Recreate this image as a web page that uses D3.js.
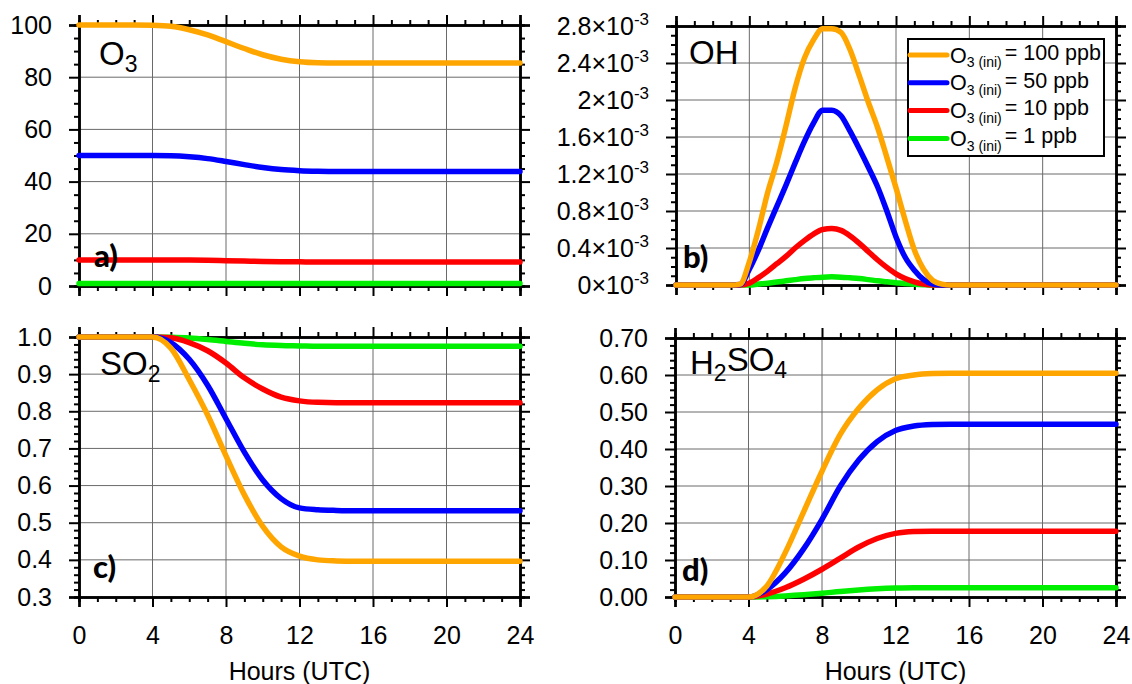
<!DOCTYPE html>
<html><head><meta charset="utf-8">
<script src="https://cdn.jsdelivr.net/npm/d3@7"></script>
<style>
body{margin:0;background:#fff}
svg{display:block}
text{font-family:"Liberation Sans",Arial,Helvetica,sans-serif;fill:#000}
</style>
</head><body>
<svg id="chart" width="1132" height="684"></svg>
<script>
// ---------------- DATA ----------------
const hours = [0,1,2,3,4,5,6,7,8,9,10,11,12,13,14,15,16,17,18,19,20,21,22,23,24];
const hoursHalf = [0,0.5,1,1.5,2,2.5,3,3.5,4,4.5,5,5.5,6,6.5,7,7.5,8,8.5,9,9.5,10,10.5,11,11.5,12,12.5,13,13.5,14,14.5,15,15.5,16,16.5,17,17.5,18,18.5,19,19.5,20,20.5,21,21.5,22,22.5,23,23.5,24];

const seriesInit = ["100", "50", "10", "1"];
const seriesColors = ["#FFA500", "#0000FF", "#FF0000", "#00EE00"];

// a) O3 (ppb)
const o3_100 = [100,100,100,100,99.9,99.5,98.2,96.2,93.6,91.0,88.6,86.9,85.9,85.5,85.4,85.4,85.4,85.4,85.4,85.4,85.4,85.4,85.4,85.4,85.4];
const o3_50  = [50,50,50,50,50,49.9,49.5,48.8,47.7,46.5,45.4,44.6,44.2,44.0,43.9,43.9,43.9,43.9,43.9,43.9,43.9,43.9,43.9,43.9,43.9];
const o3_10  = [10,10,10,10,10,10,9.95,9.85,9.7,9.55,9.4,9.3,9.25,9.2,9.2,9.2,9.2,9.2,9.2,9.2,9.2,9.2,9.2,9.2,9.2];
const o3_1   = [1,1,1,1,1,1,1,0.99,0.99,0.99,0.98,0.98,0.98,0.98,0.98,0.98,0.98,0.98,0.98,0.98,0.98,0.98,0.98,0.98,0.98];

// b) OH (x10^-3), half-hourly
const oh_100 = [0,0,0,0,0,0,0,0.01,0.25,0.6,1.0,1.33,1.72,2.13,2.45,2.65,2.77,2.77,2.73,2.54,2.26,1.97,1.7,1.38,1.05,0.7,0.38,0.17,0.05,0.01,0,0,0,0,0,0,0,0,0,0,0,0,0,0,0,0,0,0,0];
const oh_50  = [0,0,0,0,0,0,0,0.005,0.17,0.38,0.62,0.85,1.08,1.32,1.55,1.75,1.89,1.89,1.83,1.66,1.47,1.27,1.06,0.8,0.52,0.3,0.16,0.06,0.01,0,0,0,0,0,0,0,0,0,0,0,0,0,0,0,0,0,0,0,0];
const oh_10  = [0,0,0,0,0,0,0,0,0.02,0.08,0.15,0.23,0.31,0.4,0.48,0.55,0.6,0.61,0.59,0.53,0.45,0.36,0.27,0.19,0.12,0.07,0.035,0.01,0,0,0,0,0,0,0,0,0,0,0,0,0,0,0,0,0,0,0,0,0];
const oh_1   = [0,0,0,0,0,0,0,0,0,0.01,0.02,0.032,0.045,0.058,0.07,0.078,0.085,0.088,0.085,0.078,0.07,0.058,0.045,0.035,0.025,0.015,0.008,0.003,0,0,0,0,0,0,0,0,0,0,0,0,0,0,0,0,0,0,0,0,0];

// c) SO2 (normalised)
const so2_100 = [1,1,1,1,1,0.97,0.885,0.79,0.68,0.575,0.49,0.435,0.41,0.4,0.397,0.396,0.396,0.396,0.396,0.396,0.396,0.396,0.396,0.396,0.396];
const so2_50  = [1,1,1,1,1,0.985,0.94,0.87,0.78,0.69,0.615,0.565,0.54,0.535,0.533,0.532,0.532,0.532,0.532,0.532,0.532,0.532,0.532,0.532,0.532];
const so2_10  = [1,1,1,1,1,0.998,0.985,0.963,0.93,0.89,0.86,0.838,0.828,0.824,0.823,0.823,0.823,0.823,0.823,0.823,0.823,0.823,0.823,0.823,0.823];
const so2_1   = [1,1,1,1,1,0.999,0.997,0.993,0.988,0.983,0.979,0.977,0.976,0.975,0.975,0.975,0.975,0.975,0.975,0.975,0.975,0.975,0.975,0.975,0.975];

// d) H2SO4
const h2so4_100 = [0,0,0,0,0,0.03,0.12,0.23,0.34,0.44,0.51,0.56,0.59,0.6,0.604,0.605,0.605,0.605,0.605,0.605,0.605,0.605,0.605,0.605,0.605];
const h2so4_50  = [0,0,0,0,0,0.02,0.065,0.13,0.21,0.3,0.37,0.42,0.45,0.462,0.466,0.467,0.467,0.467,0.467,0.467,0.467,0.467,0.467,0.467,0.467];
const h2so4_10  = [0,0,0,0,0,0.008,0.025,0.048,0.075,0.105,0.135,0.158,0.172,0.177,0.178,0.178,0.178,0.178,0.178,0.178,0.178,0.178,0.178,0.178,0.178];
const h2so4_1   = [0,0,0,0,0,0.001,0.003,0.006,0.01,0.015,0.019,0.022,0.024,0.025,0.025,0.025,0.025,0.025,0.025,0.025,0.025,0.025,0.025,0.025,0.025];

// tick values
const xTicks = [0,4,8,12,16,20,24];
const yTicksA = [0,20,40,60,80,100];
const yTicksB = [0,0.4,0.8,1.2,1.6,2.0,2.4,2.8];
const yLabelsB = ["0","0.4","0.8","1.2","1.6","2","2.4","2.8"];
const yTicksC = [0.3,0.4,0.5,0.6,0.7,0.8,0.9,1.0];
const yTicksD = [0,0.1,0.2,0.3,0.4,0.5,0.6,0.7];

// ---------------- LAYOUT ----------------
const svg = d3.select("#chart");
const FS = 25;

const panels = [
  {box:{l:79,r:520,t:25,b:286}, x:hours, series:[o3_100,o3_50,o3_10,o3_1], yDom:[0,100], yTicks:yTicksA, yMinor:5,
   yFmt:d=>String(d), xLabels:false, title:["O","3"], letter:"a)", titlePos:[99,65], letterPos:[94,267], curve:d3.curveMonotoneX},
  {box:{l:676,r:1116,t:26,b:285}, x:hoursHalf, series:[oh_100,oh_50,oh_10,oh_1], yDom:[0,2.8], yTicks:yTicksB, yMinor:0.1,
   yFmt:null, xLabels:false, title:["OH",""], letter:"b)", titlePos:[689,64], letterPos:[683,268], curve:d3.curveMonotoneX, legend:true},
  {box:{l:79,r:520,t:337,b:597}, x:hours, series:[so2_100,so2_50,so2_10,so2_1], yDom:[0.3,1.0], yTicks:yTicksC, yMinor:0.02,
   yFmt:d3.format(".1f"), xLabels:true, title:["SO","2"], letter:"c)", titlePos:[100,375], letterPos:[93,578], curve:d3.curveMonotoneX},
  {box:{l:675,r:1116,t:338,b:597}, x:hours, series:[h2so4_100,h2so4_50,h2so4_10,h2so4_1], yDom:[0,0.7], yTicks:yTicksD, yMinor:0.02,
   yFmt:d3.format(".2f"), xLabels:true, title:["H","2","SO","4"], letter:"d)", titlePos:[690,374], letterPos:[682,581], curve:d3.curveMonotoneX}
];

function minorTicks(dom, step, majors){
  const out = [];
  const n = Math.round((dom[1]-dom[0])/step);
  for(let i=0;i<=n;i++){
    const v = +(dom[0]+i*step).toFixed(6);
    if(!majors.some(m=>Math.abs(m-v)<1e-6)) out.push(v);
  }
  return out;
}

panels.forEach(p=>{
  const B = p.box;
  const x = d3.scaleLinear().domain([0,24]).range([B.l,B.r]);
  const y = d3.scaleLinear().domain(p.yDom).range([B.b,B.t]);
  const g = svg.append("g");

  // grid
  g.append("g").selectAll("line").data(xTicks.slice(1,-1)).join("line")
    .attr("x1",d=>x(d)).attr("x2",d=>x(d)).attr("y1",B.t).attr("y2",B.b)
    .attr("stroke","#6a6a6a").attr("stroke-width",1);
  g.append("g").selectAll("line").data(p.yTicks.slice(1,-1)).join("line")
    .attr("y1",d=>y(d)).attr("y2",d=>y(d)).attr("x1",B.l).attr("x2",B.r)
    .attr("stroke","#6a6a6a").attr("stroke-width",1);

  const xMin = minorTicks([0,24],1,xTicks);
  const yMin = minorTicks(p.yDom,p.yMinor,p.yTicks);

  function styleAxis(sel){
    sel.select(".domain").attr("stroke","#000").attr("stroke-width",2.5);
    sel.selectAll(".tick line").attr("stroke","#000").attr("stroke-width",2);
    sel.attr("font-family",null).attr("font-size",FS);
  }
  // minor ticks
  [[d3.axisBottom(x),"translate(0,"+B.b+")",xMin],[d3.axisTop(x),"translate(0,"+B.t+")",xMin],
   [d3.axisLeft(y),"translate("+B.l+",0)",yMin],[d3.axisRight(y),"translate("+B.r+",0)",yMin]].forEach(([ax,tr,vals])=>{
    const s = g.append("g").attr("transform",tr).call(ax.tickValues(vals).tickSize(5).tickFormat(""));
    styleAxis(s);
  });
  // major ticks
  const bottom = g.append("g").attr("transform","translate(0,"+B.b+")")
    .call(d3.axisBottom(x).tickValues(xTicks).tickSize(10).tickPadding(19).tickFormat(p.xLabels?d3.format("d"):""));
  styleAxis(bottom);
  styleAxis(g.append("g").attr("transform","translate(0,"+B.t+")").call(d3.axisTop(x).tickValues(xTicks).tickSize(10).tickFormat("")));
  styleAxis(g.append("g").attr("transform","translate("+B.r+",0)").call(d3.axisRight(y).tickValues(p.yTicks).tickSize(10).tickFormat("")));
  const left = g.append("g").attr("transform","translate("+B.l+",0)")
    .call(d3.axisLeft(y).tickValues(p.yTicks).tickSize(10).tickPadding(17).tickFormat(p.yFmt?p.yFmt:(d,i)=>yLabelsB[i]));
  styleAxis(left);
  if(!p.yFmt){
    left.selectAll(".tick text").each(function(d,i){
      const t = d3.select(this);
      t.text(null);
      t.append("tspan").text(yLabelsB[i]+"\u00D710");
      t.append("tspan").attr("font-size",17).attr("dy","-0.55em").text("-3");
    });
  }

  // x axis title
  if(p.xLabels){
    g.append("text").attr("x",(B.l+B.r)/2).attr("y",680).attr("text-anchor","middle")
      .attr("font-size",FS).text("Hours (UTC)");
  }

  // series lines
  const line = d3.line().x((d,i)=>x(p.x[i])).y(d=>y(d)).curve(p.curve);
  const order = [3,2,1,0];
  order.forEach(k=>{
    g.append("path").datum(p.series[k]).attr("d",line)
      .attr("fill","none").attr("stroke",seriesColors[k]).attr("stroke-width",5.5)
      .attr("stroke-linejoin","round").attr("stroke-linecap","round");
  });

  // title with subscripts
  const tt = g.append("text").attr("x",p.titlePos[0]).attr("y",p.titlePos[1]).attr("font-size",33);
  p.title.forEach((s,i)=>{
    if(!s) return;
    if(i%2===0) tt.append("tspan").attr("dy", i===0?0:"-0.3em").attr("font-size",33).text(s);
    else tt.append("tspan").attr("dy","0.3em").attr("font-size",23).text(s);
  });

  // panel letter
  g.append("text").attr("x",p.letterPos[0]).attr("y",p.letterPos[1])
    .style("font-family","Lato, 'Open Sans', sans-serif").attr("font-weight",900).attr("font-size",31).text(p.letter);

  // legend
  if(p.legend){
    const L = {x:908,y:39,w:196,h:117};
    const lg = g.append("g");
    lg.append("rect").attr("x",L.x).attr("y",L.y).attr("width",L.w).attr("height",L.h)
      .attr("fill","#fff").attr("stroke","#000").attr("stroke-width",2);
    seriesInit.forEach((v,i)=>{
      const yy = 55 + i*27.8;
      lg.append("line").attr("x1",910).attr("x2",947).attr("y1",yy).attr("y2",yy)
        .attr("stroke",seriesColors[i]).attr("stroke-width",5).attr("stroke-linecap","round");
      const t = lg.append("text").attr("x",950).attr("y",yy+7.5).attr("font-size",21.5);
      t.append("tspan").text("O");
      t.append("tspan").attr("font-size",14).attr("dy","0.35em").text("3 (ini)");
      t.append("tspan").attr("dy","-0.35em").attr("dx",3).text("= "+v+" ppb");
    });
  }
});
</script>
</body></html>
